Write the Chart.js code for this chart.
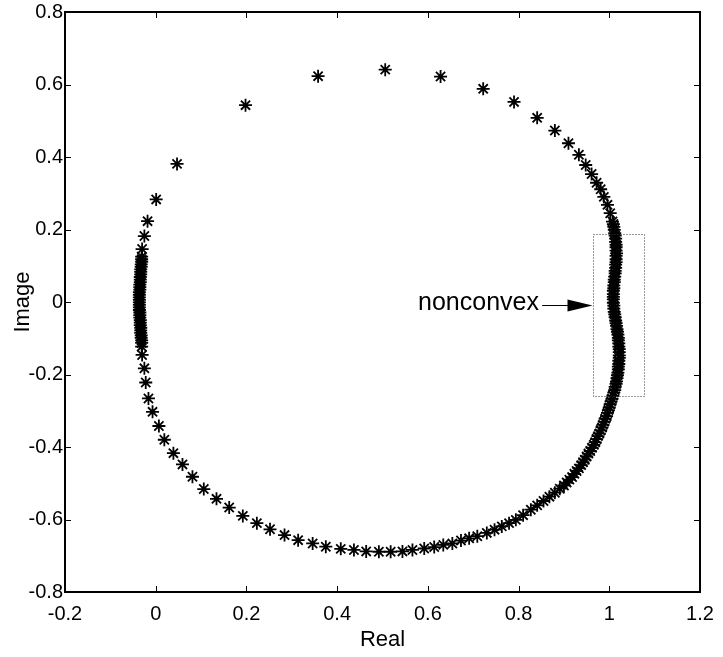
<!DOCTYPE html>
<html>
<head>
<meta charset="utf-8">
<script src="https://cdn.jsdelivr.net/npm/chart.js@4.4.1/dist/chart.umd.min.js"></script>
<style>
  html, body { margin: 0; padding: 0; background: #fff; }
</style>
</head>
<body>
<canvas id="plot" width="723" height="657"></canvas>
<script>
// upper-left side, top arc and upper-right side
const upperRe = [-0.031, -0.030, -0.025, -0.018, 0.001, 0.047, 0.198, 0.358, 0.506, 0.628, 0.722, 0.790,
  0.841, 0.880, 0.910, 0.933, 0.948, 0.961, 0.972, 0.981, 0.988, 0.996, 1.002]
const upperIm = [0.125, 0.146, 0.182, 0.223, 0.283, 0.381, 0.543, 0.623, 0.641, 0.622, 0.588, 0.552,
  0.508, 0.473, 0.438, 0.406, 0.378, 0.353, 0.329, 0.311, 0.290, 0.268, 0.245]

// dense band on the right (the nonconvex part)
const rightRe = [
  1.007, 1.009, 1.010, 1.011, 1.012, 1.013, 1.014, 1.014, 1.015, 1.015,
  1.015, 1.016, 1.015, 1.015, 1.015, 1.014, 1.014, 1.013, 1.013, 1.012,
  1.011, 1.011, 1.010, 1.010, 1.009, 1.009, 1.009, 1.009, 1.009, 1.010,
  1.010, 1.011, 1.012, 1.013, 1.014, 1.015, 1.016, 1.017, 1.018, 1.019,
  1.020, 1.020, 1.021, 1.021, 1.022, 1.022, 1.022, 1.022, 1.021, 1.021,
  1.020, 1.020, 1.019, 1.018, 1.017, 1.016, 1.015, 1.013, 1.012, 1.010,
  1.008, 1.006, 1.004, 1.002, 1.000, 0.998, 0.996, 0.994, 0.991, 0.989,
  0.986, 0.984, 0.981, 0.978, 0.975, 0.972, 0.969, 0.966, 0.962, 0.958,
  0.954, 0.950, 0.946, 0.942, 0.938, 0.933, 0.928, 0.923, 0.918, 0.912,
  0.906, 0.900]
const rightIm = [
  0.222, 0.215, 0.207, 0.199, 0.190, 0.183, 0.175, 0.166, 0.158, 0.151,
  0.142, 0.134, 0.127, 0.118, 0.110, 0.103, 0.094, 0.086, 0.079, 0.070,
  0.062, 0.055, 0.046, 0.038, 0.031, 0.022, 0.014, 0.007, -0.002, -0.010,
  -0.018, -0.027, -0.034, -0.042, -0.051, -0.058, -0.066, -0.075, -0.082, -0.090,
  -0.099, -0.106, -0.114, -0.123, -0.130, -0.138, -0.147, -0.154, -0.162, -0.171,
  -0.178, -0.186, -0.195, -0.202, -0.210, -0.219, -0.226, -0.234, -0.243, -0.250,
  -0.258, -0.267, -0.274, -0.282, -0.291, -0.298, -0.306, -0.315, -0.322, -0.330,
  -0.339, -0.346, -0.354, -0.363, -0.370, -0.378, -0.387, -0.394, -0.402, -0.411,
  -0.418, -0.426, -0.435, -0.442, -0.450, -0.459, -0.466, -0.474, -0.483, -0.490,
  -0.498, -0.506]

// bottom arc and lower-left side
const lowerRe = [0.891, 0.880, 0.868, 0.855, 0.841, 0.827, 0.810, 0.794, 0.779, 0.763,
  0.747, 0.730, 0.709, 0.691, 0.673, 0.654, 0.634, 0.614, 0.592, 0.566,
  0.544, 0.518, 0.492, 0.464, 0.437, 0.408, 0.375, 0.346, 0.314, 0.284,
  0.252, 0.223, 0.192, 0.162, 0.134, 0.106, 0.081, 0.059, 0.039, 0.019,
  0.007, -0.007, -0.016, -0.022, -0.025, -0.030, -0.031]
const lowerIm = [-0.515, -0.526, -0.537, -0.549, -0.561, -0.573, -0.588, -0.601, -0.610, -0.619,
  -0.628, -0.637, -0.646, -0.652, -0.658, -0.666, -0.670, -0.676, -0.680, -0.684,
  -0.688, -0.689, -0.689, -0.688, -0.684, -0.681, -0.675, -0.666, -0.657, -0.643,
  -0.627, -0.610, -0.590, -0.567, -0.543, -0.516, -0.482, -0.448, -0.417, -0.380,
  -0.342, -0.303, -0.266, -0.222, -0.183, -0.146, -0.123]

// dense column on the left
const leftRe = [-0.031, -0.031, -0.032, -0.032, -0.033, -0.033, -0.033, -0.034, -0.034, -0.034,
  -0.035, -0.035, -0.035, -0.036, -0.036, -0.036, -0.036, -0.036, -0.036, -0.036,
  -0.036, -0.035, -0.035, -0.035, -0.034, -0.034, -0.034, -0.033, -0.033, -0.033,
  -0.032, -0.032, -0.031, -0.031]
const leftIm = [0.118, 0.111, 0.104, 0.097, 0.090, 0.083, 0.076, 0.069, 0.062, 0.055,
  0.048, 0.041, 0.034, 0.027, 0.020, 0.013, 0.006, -0.001, -0.008, -0.015,
  -0.022, -0.029, -0.036, -0.043, -0.050, -0.057, -0.064, -0.071, -0.078, -0.085,
  -0.092, -0.099, -0.106, -0.113]

const xTicks = [-0.2, 0, 0.2, 0.4, 0.6, 0.8, 1, 1.2]
const yTicks = [-0.8, -0.6, -0.4, -0.2, 0, 0.2, 0.4, 0.6, 0.8]

// annotation: dotted box around the nonconvex part, label and arrow
const boxX = [0.965, 1.0765]
const boxY = [-0.259, 0.187]
const noteText = 'nonconvex'
const notePos = [0.845, -0.003]
const arrowFrom = [0.852, -0.007]
const arrowTo = [0.963, -0.007]

function zip(re, im) {
  return re.map((v, i) => ({ x: v, y: im[i] }))
}

const points = [].concat(
  zip(upperRe, upperIm), zip(rightRe, rightIm), zip(lowerRe, lowerIm), zip(leftRe, leftIm)
)

const frame = {
  id: 'frame',
  afterDatasetsDraw(chart) {
    const { ctx, chartArea: a, scales: { x, y } } = chart
    ctx.save()
    // dotted box
    ctx.strokeStyle = '#333'
    ctx.lineWidth = 1
    ctx.setLineDash([1, 2])
    const bx0 = Math.round(x.getPixelForValue(boxX[0])) + 0.5
    const bx1 = Math.round(x.getPixelForValue(boxX[1])) + 0.5
    const by0 = Math.round(y.getPixelForValue(boxY[1])) + 0.5
    const by1 = Math.round(y.getPixelForValue(boxY[0])) + 0.5
    ctx.strokeRect(bx0, by0, bx1 - bx0, by1 - by0)
    ctx.setLineDash([])

    // arrow
    const ax0 = x.getPixelForValue(arrowFrom[0]), ay = Math.round(y.getPixelForValue(arrowFrom[1])) + 0.5
    const ax1 = x.getPixelForValue(arrowTo[0])
    ctx.strokeStyle = '#000'
    ctx.beginPath()
    ctx.moveTo(ax0, ay)
    ctx.lineTo(ax1 - 20, ay)
    ctx.stroke()
    ctx.fillStyle = '#000'
    ctx.beginPath()
    ctx.moveTo(ax1, ay)
    ctx.lineTo(ax1 - 25, ay - 6)
    ctx.lineTo(ax1 - 25, ay + 6)
    ctx.closePath()
    ctx.fill()

    // label
    ctx.font = '25px "Liberation Sans", Arial, sans-serif'
    ctx.textAlign = 'right'
    ctx.textBaseline = 'middle'
    ctx.fillText(noteText, x.getPixelForValue(notePos[0]), y.getPixelForValue(notePos[1]))

    // axes box with inward ticks
    ctx.strokeStyle = '#000'
    ctx.lineWidth = 1
    xTicks.forEach(v => {
      const px = Math.round(x.getPixelForValue(v)) + 0.5
      ctx.beginPath()
      ctx.moveTo(px, a.bottom); ctx.lineTo(px, a.bottom - 6)
      ctx.moveTo(px, a.top); ctx.lineTo(px, a.top + 6)
      ctx.stroke()
    })
    yTicks.forEach(v => {
      const py = Math.round(y.getPixelForValue(v)) + 0.5
      ctx.beginPath()
      ctx.moveTo(a.left, py); ctx.lineTo(a.left + 6, py)
      ctx.moveTo(a.right, py); ctx.lineTo(a.right - 6, py)
      ctx.stroke()
    })
    ctx.lineWidth = 2
    ctx.strokeRect(Math.round(a.left), Math.round(a.top), Math.round(a.right - a.left), Math.round(a.bottom - a.top))
    ctx.restore()
  }
}

function noPadding(scale) {
  scale.paddingTop = 0
  scale.paddingBottom = 0
  scale.paddingLeft = 0
  scale.paddingRight = 0
}

Chart.defaults.font.family = '"Liberation Sans", Arial, sans-serif'
Chart.defaults.font.size = 20
Chart.defaults.color = '#000'

new Chart(document.getElementById('plot').getContext('2d'), {
  type: 'scatter',
  data: {
    datasets: [{
      data: points,
      pointStyle: 'star',
      pointRadius: 6.5,
      borderColor: '#000',
      backgroundColor: 'rgba(0,0,0,0)',
      borderWidth: 1.8,
      showLine: false
    }]
  },
  options: {
    responsive: false,
    animation: false,
    events: [],
    layout: { padding: { top: 12, right: 23, left: 0, bottom: 0 } },
    plugins: { legend: { display: false }, tooltip: { enabled: false } },
    scales: {
      x: {
        type: 'linear',
        min: -0.2,
        max: 1.2,
        afterBuildTicks: s => { s.ticks = xTicks.map(v => ({ value: v })) },
        afterFit: s => { s.height = 65; noPadding(s) },
        grid: { display: false, drawTicks: false },
        border: { display: false },
        ticks: { padding: 10, maxRotation: 0, autoSkip: false, callback: v => String(v) },
        title: { display: true, text: 'Real', font: { size: 22 }, padding: { top: 0, bottom: 4 } }
      },
      y: {
        type: 'linear',
        min: -0.8,
        max: 0.8,
        afterBuildTicks: s => { s.ticks = yTicks.map(v => ({ value: v })) },
        afterFit: s => { s.width = 65; noPadding(s) },
        grid: { display: false, drawTicks: false },
        border: { display: false },
        ticks: { padding: 2, autoSkip: false, callback: v => String(v) },
        title: { display: true, text: 'Image', font: { size: 22 }, padding: { top: 10, bottom: 0 } }
      }
    }
  },
  plugins: [frame]
})
</script>
</body>
</html>
